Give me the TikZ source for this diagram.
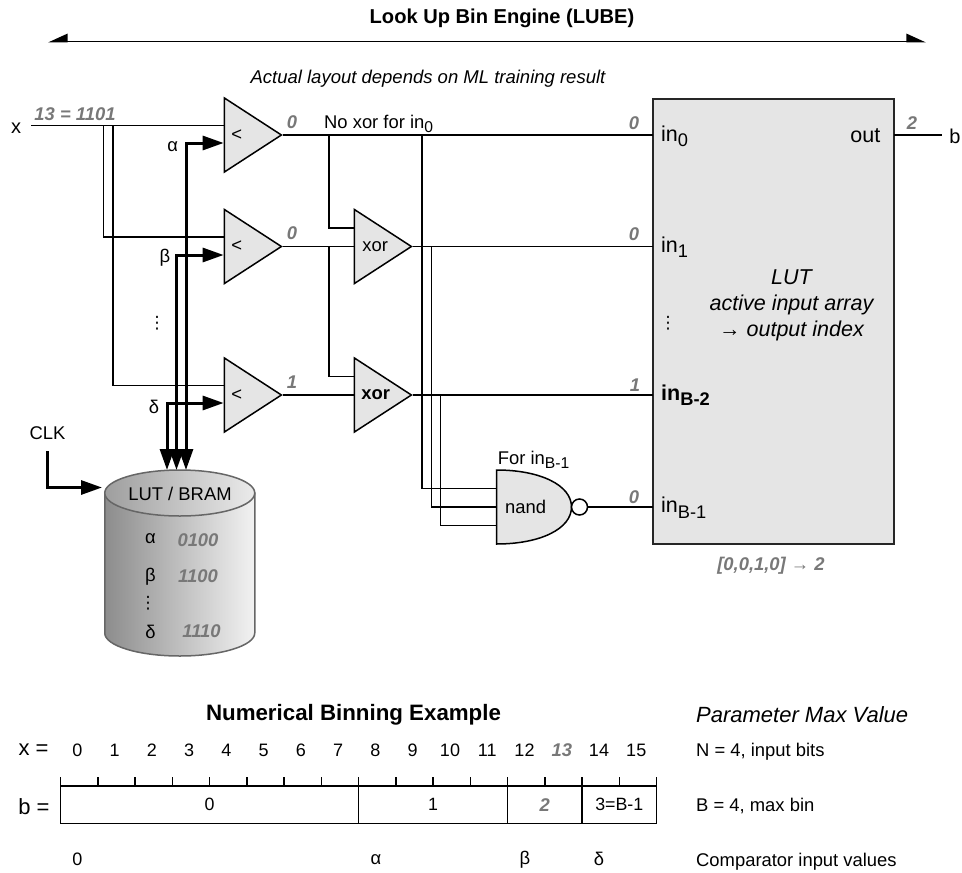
\documentclass[tikz,border=0pt]{standalone}
\usepackage{fontspec}
\setmainfont{Liberation Sans}
\newfontfamily\symfont{DejaVu Sans}
\usepackage{tikz}
\usetikzlibrary{arrows.meta, positioning, shapes.geometric, calc}
\newcommand{\normsize}{\fontsize{18.4}{22}\selectfont}
\newcommand{\lutsize}{\fontsize{21.5}{26}\selectfont}
\newcommand{\insub}[1]{in\raisebox{-.27em}{\scalebox{.85}{#1}}}
\newcommand{\vdotsign}{{\symfont\fontsize{17}{20}\selectfont ⋮}}
\definecolor{gatefill}{gray}{0.9}
\definecolor{valgray}{gray}{0.47}
\tikzset{
  cmp/.style     ={isosceles triangle, isosceles triangle stretches, draw=black, line width=1.5pt,
                   fill=gatefill, minimum width=74pt, minimum height=57pt, inner sep=0pt},
  wire/.style    ={line width=1.5pt, black},
  bus/.style     ={line width=3pt, black, {Triangle[length=21pt, width=14pt]}-{Triangle[length=21pt, width=14pt]}},
  txt/.style     ={font=\normsize, inner sep=0pt, text=black},
  intxt/.style   ={font=\lutsize, inner sep=0pt, text=black, anchor=base west},
  val/.style     ={font=\normsize\bfseries\itshape, inner sep=0pt, text=valgray},
  numtxt/.style  ={font=\fontsize{18}{20}\selectfont, inner sep=0pt, text=black},
  cellbox/.style ={rectangle, draw=black, line width=1.5pt, minimum height=37.5pt, inner sep=0pt,
                   outer sep=0pt, font=\fontsize{17.8}{20}\selectfont}
}
\begin{document}
\begin{tikzpicture}[x=1pt, y=-1pt]
\useasboundingbox (0,0) rectangle (962,873);
%  Headings
\node[txt, font=\fontsize{20.1}{24}\selectfont\bfseries] (lube) at (502,18.5) {Look Up Bin Engine (LUBE)};
\coordinate (spanl) at (48,41.7);
\coordinate (spanr) at (926,41.7);
\draw[line width=1.5pt, {Triangle[harpoon, swap, length=18pt, width=16pt]}-{Triangle[harpoon, length=18pt, width=16pt]}] (spanl) -- (spanr);
\node[txt, font=\fontsize{18.5}{22}\selectfont\itshape] (layoutnote) at (428,79) {Actual layout depends on ML training result};

%  Comparators
\node[cmp] (cmp1) at (244.5,135) {};
\node[cmp, on grid, below=111.5pt of cmp1] (cmp2) {};
\node[cmp, on grid, below=148.5pt of cmp2] (cmp3) {};
\node[cmp, on grid, right=130pt of cmp2] (xor1) {};
\node[cmp, on grid, right=130pt of cmp3] (xor2) {};
\foreach \c in {cmp1,cmp2,cmp3}
  \node[txt] at ([xshift=13pt]\c.lower side) {<};
\node[txt] at ([xshift=21.5pt]xor1.lower side) {xor};
\node[txt, font=\normsize\bfseries] at ([xshift=22pt]xor2.lower side) {xor};

%  LUT
\node[rectangle, draw=black!85, line width=1.5pt, fill=gatefill, minimum width=241pt, minimum height=445pt,
      inner sep=0pt, outer sep=0pt] (lut) at (773.5,321.5) {};
\node[txt, font=\lutsize\itshape, align=center] (lutnote) at (791.5,305.5)
      {LUT\\active input array\\→ output index};
\node[intxt] (in0) at (661,141) {\insub{0}};
\node[intxt] (in1) at (661,252) {\insub{1}};
\node[intxt, font=\lutsize\bfseries] (in2) at (661,400) {\insub{B-2}};
\node[intxt] (in3) at (661,512.5) {\insub{B-1}};
\node[txt, anchor=east, font=\lutsize] (out) at (880.5,136) {out};
\node[txt] (lutdots) at (668,323) {\vdotsign};
\node[val] (example) at (771,566) {[0,0,1,0] {\mdseries\upshape →} 2};

%  Nand gate
\node[rectangle, minimum width=75pt, minimum height=74pt, inner sep=0pt, outer sep=0pt] (nand) at (534,507) {};
\draw[line width=1.5pt, fill=gatefill] (nand.north west) .. controls (540,470) and (571.5,485) .. (nand.east)
      .. controls (571.5,529) and (540,544) .. (nand.south west) -- cycle;
\node[txt, right=8.5pt of nand.west] (nandtxt) {nand};
\node[circle, draw=black, line width=1.5pt, fill=white, minimum size=16pt, inner sep=0pt, outer sep=0pt,
      right=0pt of nand] (bubble) {};
\node[txt, anchor=base west] (nandnote) at (497.7,464) {For \insub{B-1}};

%  Memory
\node[rectangle, minimum width=150pt, minimum height=186pt, inner sep=0pt, outer sep=0pt] (bram) at (179.75,563) {};
\shade[left color=black!45, right color=black!5, draw=black!60, line width=1.5pt]
      ($(bram.north west)+(0,23)$) -- ($(bram.south west)+(0,-23)$)
      arc[start angle=180, end angle=360, x radius=75pt, y radius=23pt]
      -- ($(bram.north east)+(0,23)$) -- cycle;
\shade[left color=black!38, right color=black!8, draw=black!60, line width=1.5pt]
      ($(bram.north)+(0,23)$) ellipse (75 and 23);
\node[txt] (bramname) at (180,494) {LUT / BRAM};
\node[txt] (ma) at (150.5,539) {α};
\node[txt] (mb) at (150.5,577) {β};
\node[txt] (mdots) at (148,603) {\vdotsign};
\node[txt] (md) at (150.5,632) {δ};
\node[val] (va) at (198,540) {0100};
\node[val] (vb) at (198,576.5) {1100};
\node[val] (vd) at (201.5,631.5) {1110};

%  Signal labels
\node[txt, font=\fontsize{20}{24}\selectfont] (x) at (16,128) {x};
\node[txt, font=\fontsize{20}{24}\selectfont] (b) at (955,136) {b};
\node[val] (xval) at (75,114) {13 = 1101};
\node[txt] (aa) at (172.7,147) {α};
\node[txt] (ab) at (165,258) {β};
\node[txt] (adots) at (157,323) {\vdotsign};
\node[txt] (ad) at (154,407) {δ};
\node[val] (o1) at (292,122.5) {0};
\node[val] (o2) at (292,233.5) {0};
\node[val] (o3) at (292,382.5) {1};
\node[val] (i0) at (634,123) {0};
\node[val] (i1) at (634,234) {0};
\node[val] (i2) at (635,385) {1};
\node[val] (i3) at (634,497) {0};
\node[val] (ob) at (912,123) {2};
\node[txt, anchor=base west] (noxor) at (324,128) {No xor for \insub{0}};
\node[txt] (clk) at (47.5,433) {CLK};

%  Wires
\coordinate (xin) at (31,125.5);
\coordinate (xa) at (103.5,125.5);
\coordinate (xb) at (113,125.5);
\coordinate (clkin) at (47,451);
\coordinate (clkend) at (102,487.5);
\coordinate (t1) at (329,135);
\coordinate (t2) at (329,246.5);
\coordinate (b1) at (422,135);
\coordinate (b2) at (431.5,246.5);
\coordinate (b3) at (440.5,395);
\coordinate (outb) at (942,135);
\draw[wire] (xin) -- ([yshift=9.5pt]cmp1.lower side);
\draw[wire] (xa) |- ([yshift=9.5pt]cmp2.lower side);
\draw[wire] (xb) |- ([yshift=9.5pt]cmp3.lower side);
\draw[wire] (cmp1.apex) -- (cmp1.apex -| lut.west);
\draw[wire] (cmp2.apex) -- (xor1.lower side);
\draw[wire] (cmp3.apex) -- (xor2.lower side);
\draw[wire] (xor1.apex) -- (xor1.apex -| lut.west);
\draw[wire] (xor2.apex) -- (xor2.apex -| lut.west);
\draw[wire] (t1) |- ([yshift=18.5pt]xor1.lower side);
\draw[wire] (t2) |- ([yshift=18.5pt]xor2.lower side);
\draw[wire] (b1) |- ([yshift=18.7pt]nand.west);
\draw[wire] (b2) |- (nand.west);
\draw[wire] (b3) |- ([yshift=-18.7pt]nand.west);
\draw[wire] (bubble.east) -- (bubble.east -| lut.west);
\draw[wire] (lut.east |- outb) -- (outb);

%  Buses
\coordinate (ta) at (186,470);
\coordinate (tb) at (176.5,470);
\coordinate (td) at (167,470);
\draw[bus] (ta) |- ([yshift=-8pt]cmp1.lower side);
\draw[bus] (tb) |- ([yshift=-8.5pt]cmp2.lower side);
\draw[bus] (td) |- ([yshift=-8pt]cmp3.lower side);
\draw[line width=3pt, -{Triangle[length=21pt, width=14pt]}] (clkin) |- (clkend);

%  Binning example
\node[txt, font=\fontsize{22.3}{26}\selectfont\bfseries] (bintitle) at (353.5,714.5) {Numerical Binning Example};
\node[txt, font=\fontsize{22}{26}\selectfont\itshape, anchor=west] (partitle) at (696,714.5) {Parameter Max Value};
\node[txt, font=\fontsize{22}{26}\selectfont] (xeq) at (33.5,750) {x =};
\node[txt, font=\fontsize{22}{26}\selectfont] (beq) at (34,806.5) {b =};
\node[cellbox, minimum width=298pt] (bin0) at (209.5,804.75) {0};
\node[cellbox, minimum width=149pt, right=0pt of bin0] (bin1) {1};
\node[cellbox, minimum width=74.5pt, right=0pt of bin1, font=\normsize\bfseries\itshape, text=valgray] (bin2) {2};
\node[cellbox, minimum width=74.5pt, right=0pt of bin2] (bin3) {3=B-1};
\foreach \i in {0,...,16}
  \draw[wire] ($(bin0.north west)+(37.25*\i,0)$) -- ++(0,-9);
\foreach \i in {0,...,15} {
  \ifnum\i=13
    \node[val] (num\i) at ($(bin0.north west)+(17+37.25*\i,-36)$) {\i};
  \else
    \node[numtxt] (num\i) at ($(bin0.north west)+(17+37.25*\i,-36)$) {\i};
  \fi
}
\node[numtxt] (th0) at (77.5,859) {0};
\node[txt] (tha) at (376,860) {α};
\node[txt] (thb) at (525,860) {β};
\node[txt] (thd) at (599,859) {δ};
\node[txt, anchor=west] (parn) at (696,752) {N = 4, input bits};
\node[txt, anchor=west] (parb) at (696,806.5) {B = 4, max bin};
\node[txt, anchor=west] (parc) at (696,862) {Comparator input values};
\end{tikzpicture}
\end{document}
